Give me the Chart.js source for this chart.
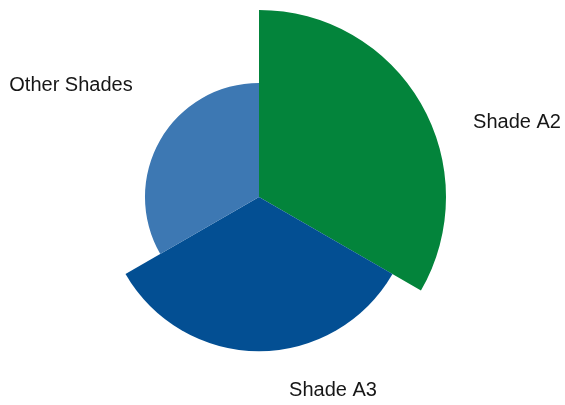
<!DOCTYPE html>
<html>
<head>
<meta charset="utf-8">
<script src="https://cdn.jsdelivr.net/npm/chart.js"></script>
<style>
  html, body { margin: 0; padding: 0; background: #fff; }
  #wrap { width: 565px; height: 405px; }
</style>
</head>
<body>
<div id="wrap"><canvas id="chart" width="565" height="405"></canvas></div>
<script>
// data
const labels = ["Shade A2", "Shade A3", "Other Shades"];
const values = [41, 33.8, 25];
const colors = ["#03843b", "#034f93", "#3d78b3"];

// where each label sits, relative to the chart centre
const labelOffsets = [[258, -75], [74, 193], [-188, -112]];

// outside labels, drawn after the slices
const sliceLabels = {
  id: "sliceLabels",
  afterDraw(chart) {
    const { ctx } = chart;
    const meta = chart.getDatasetMeta(0);
    ctx.save();
    ctx.font = "20px 'Liberation Sans', Arial, sans-serif";
    ctx.fillStyle = "#161616";
    ctx.textAlign = "center";
    ctx.textBaseline = "middle";
    meta.data.forEach((arc, i) => {
      const [dx, dy] = labelOffsets[i];
      ctx.fillText(chart.data.labels[i], arc.x + dx, arc.y + dy);
    });
    ctx.restore();
  }
};

new Chart(document.getElementById("chart").getContext("2d"), {
  type: "polarArea",
  data: {
    labels,
    datasets: [{
      data: values,
      backgroundColor: colors,
      borderWidth: 0
    }]
  },
  options: {
    responsive: false,
    animation: false,
    layout: { padding: { top: 10, bottom: 21, left: 0, right: 47 } },
    scales: {
      r: { display: false, min: 0, max: Math.max(...values) }
    },
    plugins: {
      legend: { display: false },
      tooltip: { enabled: false }
    }
  },
  plugins: [sliceLabels]
});
</script>
</body>
</html>
